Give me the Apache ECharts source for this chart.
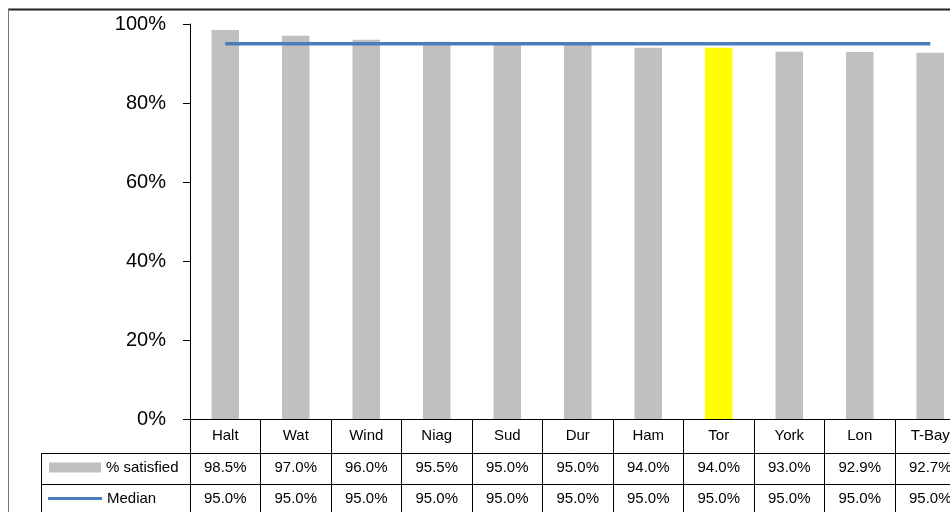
<!DOCTYPE html>
<html>
<head>
<meta charset="utf-8">
<script src="https://cdn.jsdelivr.net/npm/echarts@6/dist/echarts.min.js"></script>
<style>
  html, body { margin: 0; padding: 0; background: #fff; }
  #chart { width: 950px; height: 512px; }
</style>
</head>
<body>
<div id="chart"></div>
<script>
// Satisfaction by region with the median as a reference line
const categories = ['Halt', 'Wat', 'Wind', 'Niag', 'Sud', 'Dur', 'Ham', 'Tor', 'York', 'Lon', 'T-Bay'];
const satisfied = [98.5, 97.0, 96.0, 95.5, 95.0, 95.0, 94.0, 94.0, 93.0, 92.9, 92.7];
const median = [95.0, 95.0, 95.0, 95.0, 95.0, 95.0, 95.0, 95.0, 95.0, 95.0, 95.0];
const yTicks = [0, 20, 40, 60, 80, 100];
const highlighted = 'Tor';

const FONT = '"Liberation Sans", Arial, sans-serif';
const BAR_GREY = '#c0c0c0';
const BAR_HIGHLIGHT = '#ffff00';
const MEDIAN_BLUE = '#4a7ebb';

const GRID_LEFT = 190, GRID_TOP = 24, GRID_H = 395, GRID_W = 775.5;
const ROW1 = 34, ROW2 = 31, ROW3 = 31;

const chart = echarts.init(document.getElementById('chart'));

function tableAxis(offset, tickLen, margin, formatter) {
  return {
    type: 'category',
    data: categories,
    position: 'bottom',
    offset: offset,
    gridIndex: 0,
    boundaryGap: true,
    axisLine: { show: true, lineStyle: { color: '#000', width: 1 } },
    axisTick: { show: true, alignWithLabel: false, length: tickLen, lineStyle: { color: '#000', width: 1 } },
    axisLabel: {
      show: true, interval: 0, margin: margin,
      color: '#000', fontSize: 15, fontFamily: FONT,
      formatter: formatter
    },
    splitLine: { show: false }
  };
}

const barData = satisfied.map((v, i) => ({
  value: v,
  itemStyle: { color: categories[i] === highlighted ? BAR_HIGHLIGHT : BAR_GREY }
}));

const tableLeft = 41;
const row2Top = GRID_TOP + GRID_H + ROW1;
const row3Top = row2Top + ROW2;

chart.setOption({
  animation: false,
  backgroundColor: '#fff',
  grid: {
    left: GRID_LEFT, top: GRID_TOP, width: GRID_W, height: GRID_H,
    containLabel: false, outerBoundsMode: 'none'
  },
  legend: [
    {
      data: ['% satisfied'],
      left: 49, top: row2Top + 7,
      padding: 0,
      icon: 'rect', itemWidth: 52, itemHeight: 10,
      textStyle: { color: '#000', fontSize: 15, fontFamily: FONT },
      selectedMode: false
    },
    {
      data: ['Median'],
      left: 48, top: row3Top + 7,
      padding: 0,
      icon: 'rect', itemWidth: 54, itemHeight: 3,
      textStyle: { color: '#000', fontSize: 15, fontFamily: FONT },
      selectedMode: false
    }
  ],
  xAxis: [
    tableAxis(0, ROW1, 9, v => v),
    tableAxis(ROW1, ROW2, 7, (v, i) => satisfied[i].toFixed(1) + '%'),
    tableAxis(ROW1 + ROW2, ROW3 + 4, 7, (v, i) => median[i].toFixed(1) + '%')
  ],
  yAxis: {
    type: 'value',
    min: yTicks[0], max: yTicks[yTicks.length - 1], interval: yTicks[1] - yTicks[0],
    axisLine: { show: true, lineStyle: { color: '#000', width: 1 } },
    axisTick: { show: true, inside: false, length: 7, lineStyle: { color: '#000' } },
    axisLabel: { color: '#000', fontSize: 20, fontFamily: FONT, margin: 24, formatter: '{value}%' },
    splitLine: { show: false }
  },
  series: [
    {
      name: '% satisfied',
      type: 'bar',
      xAxisIndex: 0,
      data: barData,
      itemStyle: { color: BAR_GREY },
      barWidth: '39%'
    },
    {
      name: 'Median',
      type: 'line',
      xAxisIndex: 0,
      data: median,
      symbol: 'none',
      lineStyle: { color: MEDIAN_BLUE, width: 3.5 },
      itemStyle: { color: MEDIAN_BLUE },
      z: 5
    }
  ],
  graphic: [
    // outer frame of the chart area
    { type: 'line', shape: { x1: 8, y1: 9.5, x2: 950, y2: 9.5 }, style: { stroke: '#222', lineWidth: 2 }, silent: true },
    { type: 'line', shape: { x1: 8.5, y1: 9, x2: 8.5, y2: 512 }, style: { stroke: '#777', lineWidth: 1 }, silent: true },
    // legend column of the data table
    { type: 'line', shape: { x1: tableLeft, y1: row2Top + 0.5, x2: GRID_LEFT, y2: row2Top + 0.5 }, style: { stroke: '#000', lineWidth: 1 }, silent: true },
    { type: 'line', shape: { x1: tableLeft, y1: row3Top + 0.5, x2: GRID_LEFT, y2: row3Top + 0.5 }, style: { stroke: '#000', lineWidth: 1 }, silent: true },
    { type: 'line', shape: { x1: tableLeft + 0.5, y1: row2Top, x2: tableLeft + 0.5, y2: 520 }, style: { stroke: '#000', lineWidth: 1 }, silent: true }
  ]
});
</script>
</body>
</html>
